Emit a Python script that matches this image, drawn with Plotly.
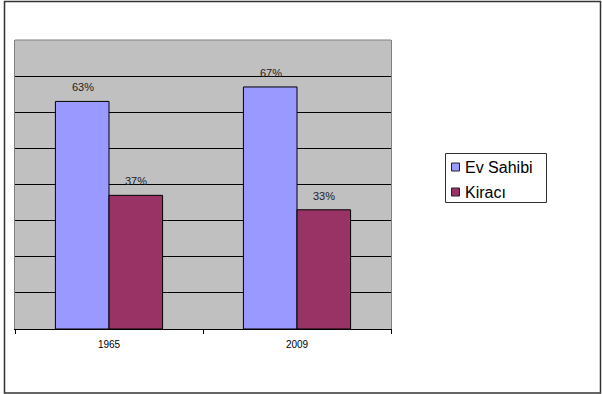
import plotly.graph_objects as go

years = ["1965", "2009"]
ev_sahibi = [0.63, 0.67]
kiraci = [0.37, 0.33]
series_names = ["Ev Sahibi", "Kiracı"]
series_colors = ["#9999FF", "#993366"]

W, H = 602, 394
L, R, T, B = 15, 211, 40, 65
pw, ph = W - L - R, H - T - B

def px_x(x):
    return (x - L) / pw

def px_y(y):
    return (H - B - y) / ph

FONT = "Arial, Liberation Sans, sans-serif"

fig = go.Figure()
for name, vals, col in zip(series_names, [ev_sahibi, kiraci], series_colors):
    fig.add_trace(go.Bar(
        x=years, y=vals, name=name,
        marker=dict(color=col, line=dict(color="#000000", width=1)),
        hoverinfo="skip",
    ))

# value labels above each bar
annotations = []
for i, vals in enumerate([ev_sahibi, kiraci]):
    for j, v in enumerate(vals):
        annotations.append(dict(
            x=j, y=v, xref="x", yref="y", text=f"{round(v*100)}%",
            showarrow=False, yshift=14, xshift=(-26.5 if i == 0 else 26.5),
            font=dict(family=FONT, size=11, color="#222222"),
        ))

shapes = [
    # outer chart frame
    dict(type="rect", xref="paper", yref="paper",
         x0=px_x(4.5), x1=px_x(600.5), y0=px_y(393), y1=px_y(1.5),
         line=dict(color="#333333", width=1.5), layer="above"),
    # plot area top border
    dict(type="line", xref="paper", yref="paper",
         x0=0, x1=1, y0=1, y1=1, line=dict(color="#808080", width=1), layer="above"),
    # legend box
    dict(type="rect", xref="paper", yref="paper",
         x0=px_x(445.5), x1=px_x(546.5), y0=px_y(202.5), y1=px_y(153.5),
         line=dict(color="#333333", width=1), fillcolor="#FFFFFF", layer="above"),
]

# legend entries: swatch + name
for k, (name, col) in enumerate(zip(series_names, series_colors)):
    cy = 167 + 25 * k
    shapes.append(dict(
        type="rect", xref="paper", yref="paper",
        x0=px_x(451.5), x1=px_x(459.5), y0=px_y(cy + 4), y1=px_y(cy - 4),
        line=dict(color="#222222", width=1), fillcolor=col, layer="above",
    ))
    annotations.append(dict(
        x=px_x(463), y=px_y(cy), xref="paper", yref="paper",
        xanchor="left", yanchor="middle", text=name, showarrow=False,
        font=dict(family=FONT, size=16, color="#000000"),
    ))

fig.update_layout(
    width=W, height=H,
    margin=dict(l=L, r=R, t=T, b=B),
    paper_bgcolor="#FFFFFF",
    plot_bgcolor="#C0C0C0",
    barmode="group",
    bargap=0.43,
    bargroupgap=0,
    font=dict(family=FONT, size=11, color="#000000"),
    showlegend=False,
    annotations=annotations,
    shapes=shapes,
    xaxis=dict(
        showline=True, linecolor="#000000", linewidth=1,
        ticks="outside", ticklen=4, tickcolor="#000000",
        tickson="boundaries", showgrid=False,
        ticklabelstandoff=6,
        tickfont=dict(family=FONT, size=10, color="#000000"),
    ),
    yaxis=dict(
        range=[0, 0.8], dtick=0.1, showticklabels=False,
        showgrid=True, gridcolor="#000000", gridwidth=1,
        showline=True, linecolor="#808080", linewidth=1, mirror=True,
        zeroline=False, fixedrange=True,
    ),
)

fig.write_html("out.html")
